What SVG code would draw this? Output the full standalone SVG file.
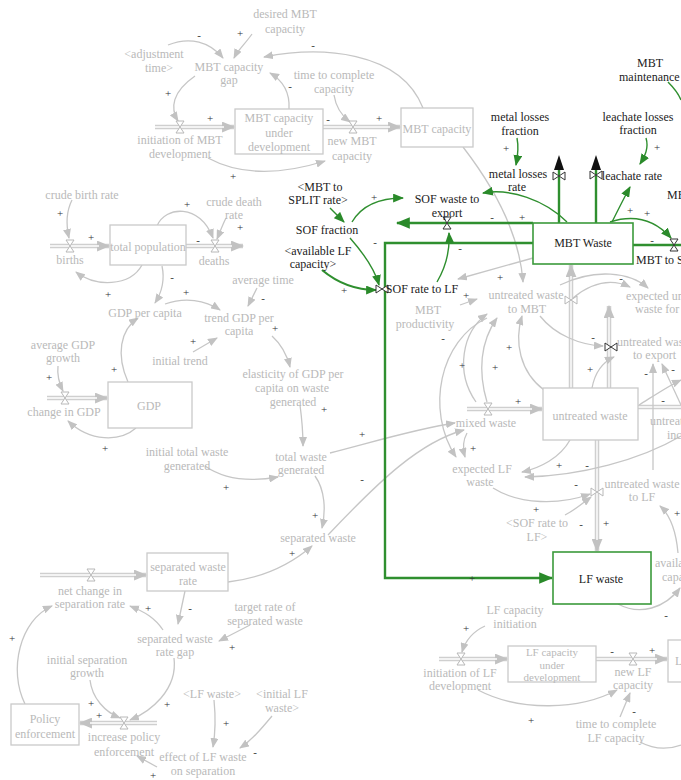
<svg xmlns="http://www.w3.org/2000/svg" width="681" height="780" viewBox="0 0 681 780">
<style>
text{font-family:"Liberation Serif","Times New Roman",serif;font-size:12px;text-anchor:middle}
.g{fill:#b9b9b9}
.k{fill:#1c1c1c}
.st{text-anchor:start}
.sm{font-size:11px}
.s{fill:#333;font-size:11px}
.box{fill:#fff;stroke:#cacaca;stroke-width:1.3}
.gbox{fill:#fff;stroke:#3b9a3b;stroke-width:1.6}
.l{fill:none;stroke:#c6c6c6;stroke-width:1.3;marker-end:url(#ag)}
.po{fill:none;stroke:#cfcfcf;stroke-width:4.5}
.pa{marker-end:url(#ap)}
.pi{fill:none;stroke:#fff;stroke-width:1.4}
.gl{fill:none;stroke:#2f8f2f;stroke-width:1.4;marker-end:url(#an)}
.gt{fill:none;stroke:#2f8f2f;stroke-width:2.4}
.v{fill:#fff;stroke:#b8b8b8;stroke-width:1}
.vk{fill:#fff;stroke:#333;stroke-width:1}
</style>
<defs>
<marker id="ag" viewBox="0 0 10 8" refX="9" refY="4" markerWidth="10" markerHeight="8" markerUnits="userSpaceOnUse" orient="auto"><path d="M0,0 L10,4 L0,8 Z" fill="#c2c2c2"/></marker>
<marker id="ap" viewBox="0 0 12 10" refX="11" refY="5" markerWidth="13" markerHeight="11" markerUnits="userSpaceOnUse" orient="auto"><path d="M0,0 L12,5 L0,10 Z" fill="#c2c2c2"/></marker>
<marker id="an" viewBox="0 0 10 8" refX="9" refY="4" markerWidth="11" markerHeight="9" markerUnits="userSpaceOnUse" orient="auto"><path d="M0,0 L10,4 L0,8 Z" fill="#2a8a2a"/></marker>
<marker id="at" viewBox="0 0 12 10" refX="11" refY="5" markerWidth="14" markerHeight="12" markerUnits="userSpaceOnUse" orient="auto"><path d="M0,0 L12,5 L0,10 Z" fill="#2a8a2a"/></marker>
<path id="hg" d="M-4,-6 L4,-6 L-4,6 L4,6 Z"/>
<path id="bt" d="M-6,-4 L-6,4 L6,-4 L6,4 Z"/>
</defs>
<rect width="681" height="780" fill="#fff"/>

<g id="connectors">
<!-- grey pipes -->
<path class="po pa" d="M155 127 L234 127"/><path class="pi" d="M155 127 L224 127"/>
<path class="po pa" d="M323 127 L400 127"/><path class="pi" d="M323 127 L390 127"/>
<path class="po pa" d="M50 246 L109 246"/><path class="pi" d="M50 246 L99 246"/>
<path class="po pa" d="M186 246 L243 246"/><path class="pi" d="M186 246 L232 246"/>
<path class="po pa" d="M47 398 L107 398"/><path class="pi" d="M47 398 L97 398"/>
<path class="po pa" d="M40 575 L146 575"/><path class="pi" d="M40 575 L136 575"/>
<path class="po pa" d="M157 723 L80 723"/><path class="pi" d="M157 723 L90 723"/>
<path class="po pa" d="M467 409 L542 409"/><path class="pi" d="M467 409 L532 409"/>
<path class="po pa" d="M571 388 L571 265"/><path class="pi" d="M571 388 L571 276"/>
<path class="po pa" d="M609 388 L609 306"/><path class="pi" d="M609 388 L609 317"/>
<path class="po" d="M638 407 L681 407"/><path class="pi" d="M638 407 L681 407"/>
<path class="po pa" d="M597 440 L597 551"/><path class="pi" d="M597 440 L597 540"/>
<path class="po pa" d="M439 659 L507 659"/><path class="pi" d="M439 659 L497 659"/>
<path class="po pa" d="M596 659 L667 659"/><path class="pi" d="M596 659 L657 659"/>

<!-- grey links -->
<path class="l" d="M252 34 C245 44 238 50 234 58"/>
<path class="l" d="M168 45 C190 36 210 42 223 58"/>
<path class="l" d="M195 76 C172 92 170 108 178 121"/>
<path class="l" d="M289 109 C290 92 282 80 270 73"/>
<path class="l" d="M334 95 C336 108 342 116 350 122"/>
<path class="l" d="M208 158 C245 178 290 172 325 161"/>
<path class="l" d="M423 108 C400 50 320 46 264 57"/>
<path class="l" d="M463 147 C500 195 520 240 523 282"/>
<path class="l" d="M72 200 C66 212 66 225 69 238"/>
<path class="l" d="M226 218 C222 226 220 232 217 239"/>
<path class="l" d="M157 226 C165 206 200 203 213 238"/>
<path class="l" d="M142 265 C130 287 95 287 76 272"/>
<path class="l" d="M162 266 C165 280 162 292 155 303"/>
<path class="l" d="M165 304 C185 297 205 300 220 310"/>
<path class="l" d="M257 288 L248 306"/>
<path class="l" d="M193 352 L217 338"/>
<path class="l" d="M272 336 C282 345 287 355 290 367"/>
<path class="l" d="M300 405 C302 420 303 432 303 446"/>
<path class="l" d="M58 366 C57 375 59 383 63 391"/>
<path class="l" d="M128 382 C116 355 120 330 138 318"/>
<path class="l" d="M136 428 C120 442 90 442 68 421"/>
<path class="l" d="M205 466 C225 480 250 482 278 477"/>
<path class="l" d="M315 476 C325 490 326 510 322 528"/>
<path class="l" d="M330 453 C380 440 420 428 455 423"/>
<path class="l" d="M328 535 C380 480 420 442 464 430"/>
<path class="l" d="M228 582 C262 578 290 565 312 546"/>
<path class="l" d="M185 591 L178 624"/>
<path class="l" d="M250 625 L219 641"/>
<path class="l" d="M163 630 C155 618 145 612 130 606"/>
<path class="l" d="M90 680 C92 698 105 712 120 718"/>
<path class="l" d="M174 658 C178 690 150 712 130 720"/>
<path class="l" d="M25 704 C8 670 20 620 52 606"/>
<path class="l" d="M214 700 C216 720 215 735 213 747"/>
<path class="l" d="M272 716 C262 728 252 740 240 748"/>
<path class="l" d="M157 767 L137 756"/>
<path class="l" d="M460 305 L477 299"/>
<path class="l" d="M533 258 L458 279"/>
<path class="l" d="M476 402 C455 372 462 332 487 314"/>
<path class="l" d="M487 402 C478 372 480 342 497 318"/>
<path class="l" d="M544 390 C520 372 514 342 522 316"/>
<path class="l" d="M487 318 C440 340 425 410 456 457"/>
<path class="l" d="M467 433 C462 442 463 450 465 457"/>
<path class="l" d="M540 316 C555 335 580 345 603 346"/>
<path class="l" d="M592 388 C595 372 603 362 614 357"/>
<path class="l" d="M573 298 C595 280 615 280 630 287"/>
<path class="l" d="M560 285 C595 268 630 272 648 288"/>
<path class="l" d="M570 440 C560 458 540 468 522 472"/>
<path class="l" d="M681 436 C640 460 580 476 525 477"/>
<path class="l" d="M493 488 C520 505 560 505 590 494"/>
<path class="l" d="M565 515 C575 510 583 503 591 497"/>
<path class="l" d="M618 604 C640 616 665 608 680 588"/>
<path class="l" d="M678 553 C676 530 670 515 660 506"/>
<path class="l" d="M639 405 C655 395 670 385 681 380"/>
<path class="l" d="M653 470 L653 364"/>
<path class="l" d="M681 405 L662 364"/>
<path class="l" d="M485 626 C472 632 465 642 462 652"/>
<path class="l" d="M478 690 C520 712 580 710 617 690"/>
<path class="l" d="M620 717 L630 693"/>
<path class="l" style="marker-end:none" d="M640 742 C655 750 670 749 681 745"/>

<!-- green -->
<path class="gt" style="marker-end:url(#at)" d="M533 223 L397 223"/>
<path class="gt" style="marker-end:url(#at)" d="M533 243 L385 243 L385 578 L552 578"/>
<path class="gt" d="M559 223 L559 168"/>
<path class="gt" d="M596 223 L596 168"/>
<path class="gt" d="M633 245 L681 245"/>
<path class="gl" d="M330 208 L344 222"/>
<path class="gl" d="M352 222 C362 205 380 198 403 198"/>
<path class="gl" d="M350 238 C365 255 375 270 379 285"/>
<path class="gl" style="stroke-width:2.2" d="M322 270 C340 285 358 290 376 290"/>
<path class="gl" d="M437 282 C447 265 450 250 449 233"/>
<path class="gl" d="M567 222 C545 200 510 188 483 193"/>
<path class="gl" d="M517 138 C519 148 518 155 516 165"/>
<path class="gl" d="M646 138 C649 148 645 156 640 164"/>
<path class="gl" d="M612 222 C618 210 624 198 630 187"/>
<path class="gl" d="M610 222 C635 214 655 220 671 238"/>
<path class="gl" style="marker-end:none" d="M668 82 C674 88 679 95 681 100"/>
<path d="M554 170 L559 155 L564 170 Z" fill="#111"/>
<path d="M591 170 L596 155 L601 170 Z" fill="#111"/>
</g>

<g id="valves">
<use href="#hg" class="v" x="180" y="127"/>
<use href="#hg" class="v" x="353" y="127"/>
<use href="#hg" class="v" x="70" y="246"/>
<use href="#hg" class="v" x="215" y="246"/>
<use href="#hg" class="v" x="65" y="398"/>
<use href="#hg" class="v" x="91" y="575"/>
<use href="#hg" class="v" x="124" y="723"/>
<use href="#hg" class="v" x="488" y="409"/>
<use href="#bt" class="v" x="571" y="300"/>
<use href="#bt" class="vk" x="611" y="347"/>
<use href="#bt" class="v" x="597" y="492"/>
<use href="#hg" class="v" x="461" y="659"/>
<use href="#hg" class="v" x="633" y="659"/>
<use href="#hg" class="vk" x="447" y="223"/>
<use href="#bt" class="vk" x="382" y="289"/>
<use href="#bt" class="vk" x="559" y="176"/>
<use href="#bt" class="vk" x="596" y="175"/>
<use href="#hg" class="vk" x="674" y="245"/>
</g>

<g id="desired-mbt-capacity"><text class="g" x="285" y="18">desired MBT</text><text class="g" x="285" y="33">capacity</text></g>
<g id="adjustment-time"><text class="g" x="154" y="58">&lt;adjustment</text><text class="g" x="159" y="72">time&gt;</text></g>
<g id="mbt-capacity-gap"><text class="g" x="229" y="71">MBT capacity</text><text class="g" x="229" y="84">gap</text></g>
<g id="time-to-complete-capacity"><text class="g" x="334" y="79">time to complete</text><text class="g" x="334" y="93">capacity</text></g>
<g id="mbt-capacity-under-development"><rect class="box" x="235" y="109" width="88" height="45"/><text class="g" x="279" y="122">MBT capacity</text><text class="g" x="279" y="137">under</text><text class="g" x="279" y="151">development</text></g>
<g id="initiation-of-mbt-development"><text class="g" x="180" y="144">initiation of MBT</text><text class="g" x="180" y="158">development</text></g>
<g id="new-mbt-capacity"><text class="g" x="352" y="145">new MBT</text><text class="g" x="352" y="160">capacity</text></g>
<g id="mbt-capacity"><rect class="box" x="401" y="108" width="72" height="39"/><text class="g" x="437" y="133">MBT capacity</text></g>
<g id="crude-birth-rate"><text class="g" x="82" y="199">crude birth rate</text></g>
<g id="births"><text class="g" x="70" y="264">births</text></g>
<g id="total-population"><rect class="box" x="110" y="225" width="76" height="40"/><text class="g" x="148" y="251">total population</text></g>
<g id="deaths"><text class="g" x="214" y="265">deaths</text></g>
<g id="crude-death-rate"><text class="g" x="234" y="206">crude death</text><text class="g" x="234" y="219">rate</text></g>
<g id="gdp-per-capita"><text class="g" x="145" y="317">GDP per capita</text></g>
<g id="average-time"><text class="g" x="263" y="284">average time</text></g>
<g id="trend-gdp-per-capita"><text class="g" x="239" y="322">trend GDP per</text><text class="g" x="239" y="335">capita</text></g>
<g id="initial-trend"><text class="g" x="180" y="365">initial trend</text></g>
<g id="elasticity"><text class="g" x="293" y="378">elasticity of GDP per</text><text class="g" x="292" y="392">capita on waste</text><text class="g" x="293" y="406">generated</text></g>
<g id="average-gdp-growth"><text class="g" x="63" y="349">average GDP</text><text class="g" x="63" y="362">growth</text></g>
<g id="change-in-gdp"><text class="g" x="64" y="416">change in GDP</text></g>
<g id="gdp"><rect class="box" x="108" y="382" width="84" height="46"/><text class="g" x="149" y="410">GDP</text></g>
<g id="initial-total-waste-generated"><text class="g" x="187" y="456">initial total waste</text><text class="g" x="187" y="470">generated</text></g>
<g id="total-waste-generated"><text class="g" x="301" y="461">total waste</text><text class="g" x="301" y="474">generated</text></g>
<g id="separated-waste"><text class="g" x="318" y="542">separated waste</text></g>
<g id="separated-waste-rate"><rect class="box" x="147" y="553" width="81" height="38"/><text class="g" x="188" y="571">separated waste</text><text class="g" x="188" y="585">rate</text></g>
<g id="net-change-in-separation-rate"><text class="g" x="90" y="595">net change in</text><text class="g" x="90" y="608">separation rate</text></g>
<g id="separated-waste-rate-gap"><text class="g" x="175" y="643">separated waste</text><text class="g" x="175" y="656">rate gap</text></g>
<g id="target-rate"><text class="g" x="265" y="611">target rate of</text><text class="g" x="265" y="625">separated waste</text></g>
<g id="initial-separation-growth"><text class="g" x="87" y="664">initial separation</text><text class="g" x="87" y="677">growth</text></g>
<g id="policy-enforcement"><rect class="box" x="11" y="704" width="68" height="41"/><text class="g" x="45" y="723">Policy</text><text class="g" x="45" y="738">enforcement</text></g>
<g id="increase-policy-enforcement"><text class="g" x="124" y="741">increase policy</text><text class="g" x="124" y="756">enforcement</text></g>
<g id="lf-waste-shadow"><text class="g" x="212" y="698">&lt;LF waste&gt;</text></g>
<g id="initial-lf-waste"><text class="g" x="282" y="698">&lt;initial LF</text><text class="g" x="282" y="712">waste&gt;</text></g>
<g id="effect-of-lf-waste"><text class="g" x="203" y="761">effect of LF waste</text><text class="g" x="203" y="775">on separation</text></g>

<g id="untreated-waste-to-mbt"><text class="g" x="526" y="299">untreated waste</text><text class="g" x="527" y="313">to MBT</text></g>
<g id="mbt-productivity"><text class="g" x="428" y="314">MBT</text><text class="g" x="425" y="328">productivity</text></g>
<g id="untreated-waste"><rect class="box" x="543" y="388" width="95" height="52"/><text class="g" x="590" y="420">untreated waste</text></g>
<g id="mixed-waste"><text class="g" x="486" y="427">mixed waste</text></g>
<g id="untreated-waste-to-export"><text class="g st" x="617" y="346">untreated waste</text><text class="g st" x="633" y="359">to export</text></g>
<g id="expected-untreated-waste-for-export"><text class="g st" x="626" y="300">expected untreated</text><text class="g st" x="635" y="313">waste for export</text></g>
<g id="untreated-waste-to-incineration"><text class="g st" x="650" y="425">untreated waste to</text><text class="g st" x="667" y="439">incineration</text></g>
<g id="expected-lf-waste"><text class="g" x="482" y="473">expected LF</text><text class="g" x="480" y="486">waste</text></g>
<g id="untreated-waste-to-lf"><text class="g" x="642" y="488">untreated waste</text><text class="g" x="642" y="501">to LF</text></g>
<g id="sof-rate-to-lf-shadow"><text class="g" x="537" y="527">&lt;SOF rate to</text><text class="g" x="537" y="541">LF&gt;</text></g>
<g id="available-lf-capacity"><text class="g st" x="655" y="567">available LF</text><text class="g st" x="662" y="581">capacity</text></g>
<g id="lf-capacity-initiation"><text class="g" x="515" y="614">LF capacity</text><text class="g" x="515" y="628">initiation</text></g>
<g id="initiation-of-lf-development"><text class="g" x="460" y="677">initiation of LF</text><text class="g" x="460" y="690">development</text></g>
<g id="lf-capacity-under-development"><rect class="box" x="508" y="646" width="88" height="36"/><text class="g sm" x="552" y="656">LF capacity</text><text class="g sm" x="552" y="668.5">under</text><text class="g sm" x="552" y="681">development</text></g>
<g id="new-lf-capacity"><text class="g" x="633" y="676">new LF</text><text class="g" x="633" y="689">capacity</text></g>
<g id="lf-capacity"><rect class="box" x="668" y="640" width="40" height="42"/><text class="g st" x="675" y="665">LF capacity</text></g>
<g id="time-to-complete-lf-capacity"><text class="g" x="616" y="728">time to complete</text><text class="g" x="616" y="742">LF capacity</text></g>

<g id="mbt-to-split-rate-shadow"><text class="k" x="320" y="191">&lt;MBT to</text><text class="k" x="318" y="204">SPLIT rate&gt;</text></g>
<g id="sof-fraction"><text class="k" x="327" y="234">SOF fraction</text></g>
<g id="available-lf-capacity-shadow"><text class="k" x="318" y="255">&lt;available LF</text><text class="k" x="313" y="268">capacity&gt;</text></g>
<g id="sof-waste-to-export"><text class="k" x="447" y="203">SOF waste to</text><text class="k" x="447" y="217">export</text></g>
<g id="sof-rate-to-lf"><text class="k" x="422" y="293">SOF rate to LF</text></g>
<g id="metal-losses-fraction"><text class="k" x="520" y="121">metal losses</text><text class="k" x="520" y="135">fraction</text></g>
<g id="metal-losses-rate"><text class="k" x="518" y="178">metal losses</text><text class="k" x="517" y="191">rate</text></g>
<g id="leachate-losses-fraction"><text class="k" x="638" y="121">leachate losses</text><text class="k" x="638" y="134">fraction</text></g>
<g id="leachate-rate"><text class="k" x="632" y="180">leachate rate</text></g>
<g id="mbt-maintenance"><text class="k" x="650" y="67">MBT</text><text class="k st" x="619" y="81">maintenance</text></g>
<g id="mbt-top-right"><text class="k st" x="667" y="199">MBT</text></g>
<g id="mbt-waste"><rect class="gbox" x="533" y="223" width="100" height="41"/><text class="k" x="583" y="247">MBT Waste</text></g>
<g id="mbt-to-split"><text class="k st" x="636" y="264">MBT to SPLIT</text></g>
<g id="lf-waste"><rect class="gbox" x="553" y="552" width="98" height="52"/><text class="k" x="601" y="583">LF waste</text></g>

<g id="polarities">
<text class="s" x="199" y="39">-</text><text class="s" x="240" y="37">+</text><text class="s" x="313" y="49">-</text><text class="s" x="168" y="97">+</text><text class="s" x="210" y="122">+</text><text class="s" x="290" y="90">-</text><text class="s" x="328" y="123">-</text><text class="s" x="379" y="122">+</text><text class="s" x="233" y="180">+</text>
<text class="s" x="60" y="217">+</text><text class="s" x="91" y="241">+</text><text class="s" x="198" y="244">-</text><text class="s" x="187" y="208">+</text><text class="s" x="240" y="231">+</text><text class="s" x="108" y="298">+</text><text class="s" x="172" y="281">-</text><text class="s" x="186" y="296">+</text><text class="s" x="263" y="302">-</text><text class="s" x="193" y="345">+</text><text class="s" x="275" y="332">+</text><text class="s" x="324" y="413">+</text><text class="s" x="49" y="381">+</text><text class="s" x="114" y="373">+</text><text class="s" x="105" y="452">+</text>
<text class="s" x="226" y="491">+</text><text class="s" x="315" y="519">+</text><text class="s" x="292" y="557">+</text><text class="s" x="362" y="438">+</text><text class="s" x="362" y="483">-</text>
<text class="s" x="190" y="612">-</text><text class="s" x="148" y="612">+</text><text class="s" x="232" y="651">+</text><text class="s" x="91" y="707">+</text><text class="s" x="99" y="719">+</text><text class="s" x="167" y="708">+</text><text class="s" x="12" y="642">+</text><text class="s" x="226" y="727">+</text><text class="s" x="255" y="756">-</text><text class="s" x="153" y="779">+</text>
<text class="s" x="374" y="201">+</text><text class="s" x="375" y="246">-</text><text class="s" x="344" y="294">+</text><text class="s" x="460" y="252">-</text><text class="s" x="492" y="221">-</text><text class="s" x="522" y="221">+</text><text class="s" x="506" y="152">+</text><text class="s" x="657" y="151">+</text><text class="s" x="630" y="214">+</text><text class="s" x="647" y="217">+</text><text class="s" x="652" y="244">-</text><text class="s" x="500" y="281">+</text><text class="s" x="466" y="299">+</text><text class="s" x="472" y="582">+</text>
<text class="s" x="443" y="342">-</text><text class="s" x="509" y="351">+</text><text class="s" x="462" y="369">+</text><text class="s" x="495" y="371">+</text><text class="s" x="593" y="341">-</text><text class="s" x="590" y="373">+</text><text class="s" x="646" y="377">-</text><text class="s" x="673" y="373">-</text><text class="s" x="663" y="404">-</text><text class="s" x="518" y="405">+</text><text class="s" x="473" y="452">+</text><text class="s" x="559" y="469">+</text><text class="s" x="587" y="469">-</text><text class="s" x="576" y="488">-</text><text class="s" x="536" y="513">+</text><text class="s" x="581" y="528">-</text><text class="s" x="606" y="527">+</text><text class="s" x="677" y="517">+</text><text class="s" x="621" y="282">-</text><text class="s" x="666" y="619">-</text>
<text class="s" x="466" y="632">+</text><text class="s" x="612" y="655">-</text><text class="s" x="652" y="654">+</text><text class="s" x="531" y="724">+</text><text class="s" x="634" y="715">-</text>
</g>
</svg>
